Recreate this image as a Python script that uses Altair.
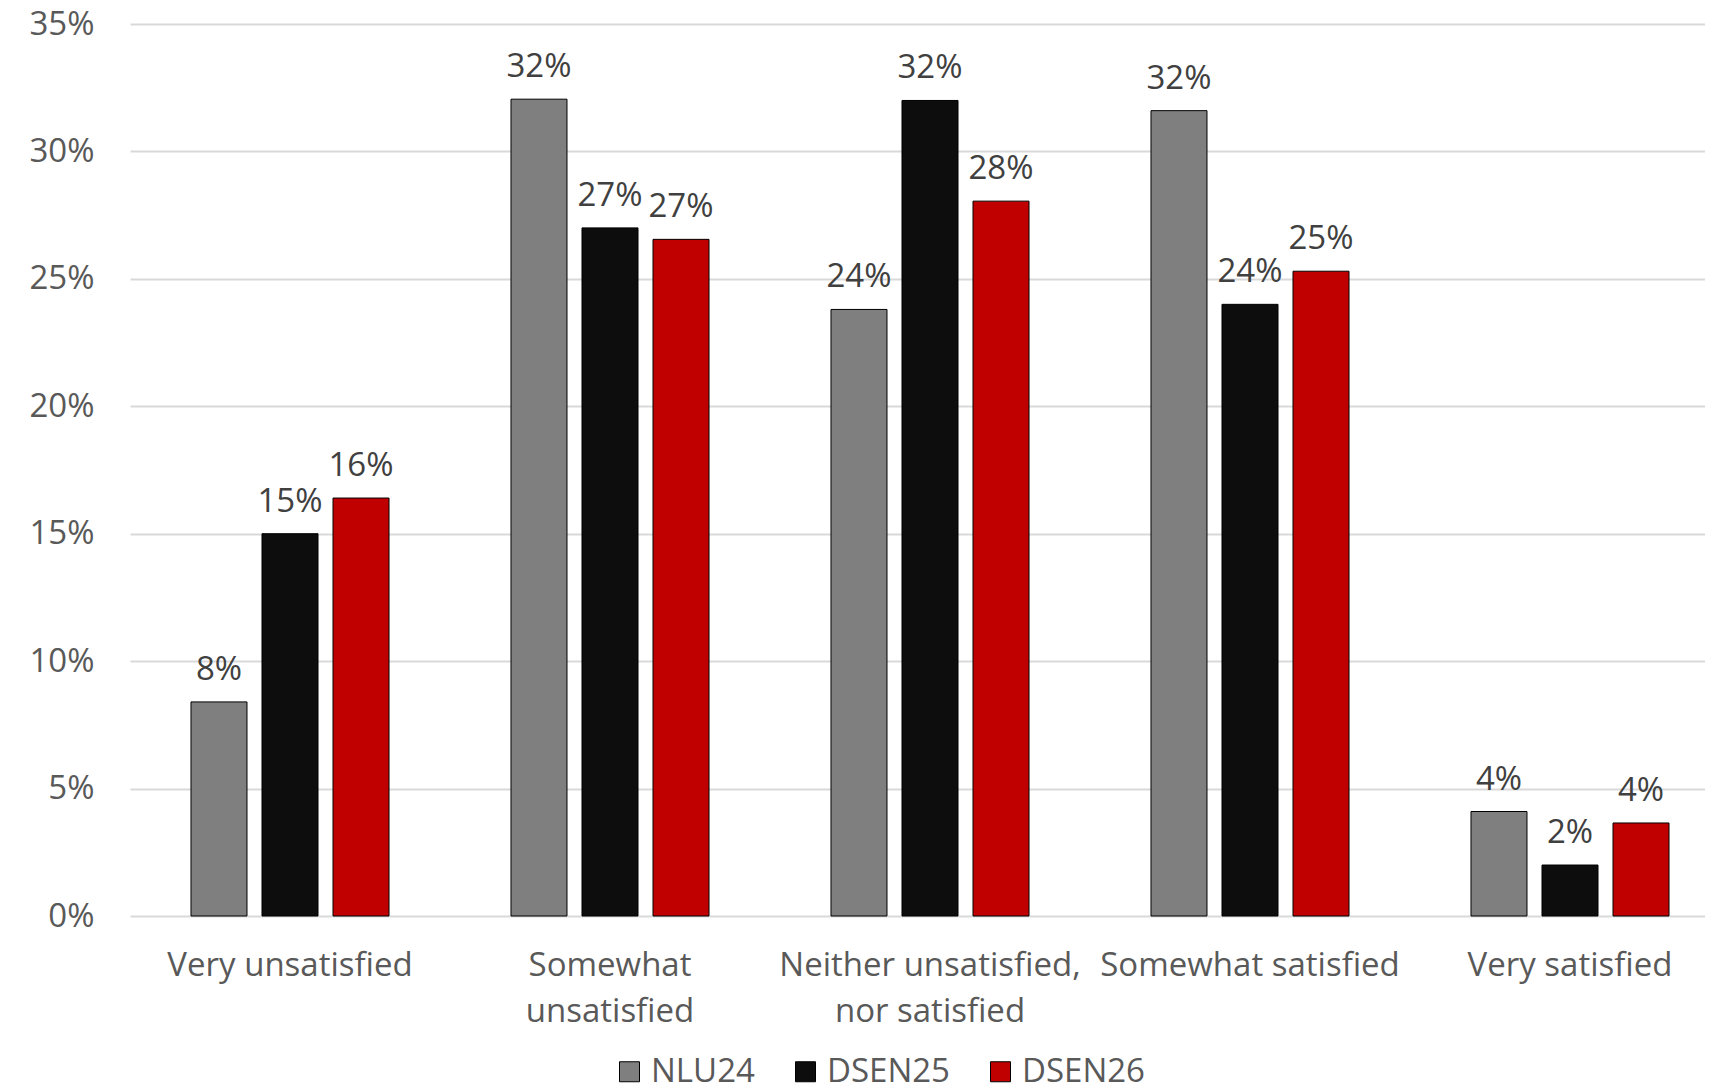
import altair as alt
import pandas as pd

categories = ["Very unsatisfied", "Somewhat unsatisfied", "Neither unsatisfied, nor satisfied",
              "Somewhat satisfied", "Very satisfied"]
series = ["NLU24", "DSEN25", "DSEN26"]
nlu24 = [0.084, 0.3205, 0.238, 0.316, 0.041]
dsen25 = [0.150, 0.270, 0.320, 0.240, 0.020]
dsen26 = [0.164, 0.2655, 0.2805, 0.253, 0.0365]
colors = ["#7F7F7F", "#0D0D0D", "#C00000"]
y_ticks = [0, 0.05, 0.10, 0.15, 0.20, 0.25, 0.30, 0.35]

rows = []
for name, vals in zip(series, [nlu24, dsen25, dsen26]):
    for c, v in zip(categories, vals):
        rows.append({"category": c, "series": name, "value": v})
df = pd.DataFrame(rows)

FONT = "Open Sans"
FS = 33

label_expr = ("datum.label == 'Somewhat unsatisfied' ? ['Somewhat', 'unsatisfied'] : "
              "datum.label == 'Neither unsatisfied, nor satisfied' ? ['Neither unsatisfied,', 'nor satisfied'] : "
              "datum.label")

base = alt.Chart(df).encode(
    x=alt.X("category:N", sort=categories, title=None,
            scale=alt.Scale(range=[0, 1600], paddingInner=0, paddingOuter=0),
            axis=alt.Axis(labelAngle=0, labelExpr=label_expr, labelLimit=1000,
                          labelFontSize=FS, labelFont=FONT, labelColor="#595959",
                          labelPadding=33, labelLineHeight=46, ticks=False, domain=False,
                          grid=False)),
    xOffset=alt.XOffset("series:N", sort=series,
                        scale=alt.Scale(paddingInner=0.2113, paddingOuter=0.859)),
    y=alt.Y("value:Q", title=None,
            scale=alt.Scale(domain=[0, 0.35], nice=False),
            axis=alt.Axis(values=y_ticks, format=".0%", labelFontSize=FS, labelFont=FONT,
                          labelColor="#595959", labelPadding=36, ticks=False, domain=False,
                          grid=True, gridColor="#D9D9D9", gridWidth=2)),
)

bars = base.mark_bar(stroke="#000000", strokeWidth=1).encode(
    color=alt.Color("series:N", sort=series, title=None,
                    scale=alt.Scale(domain=series, range=colors),
                    legend=alt.Legend(orient="none", legendX=483, legendY=1031,
                                      direction="horizontal", symbolType="square",
                                      symbolSize=400, symbolStrokeColor="#000000",
                                      symbolStrokeWidth=1, labelFontSize=FS, labelFont=FONT,
                                      labelColor="#595959", columnPadding=34, labelOffset=5,
                                      padding=0))
)

texts = base.mark_text(baseline="alphabetic", dy=-22, fontSize=FS, font=FONT,
                       color="#404040").encode(
    text=alt.Text("value:Q", format=".0%")
)

chart = alt.layer(bars, texts).properties(
    width=1575, height=892,
    autosize=alt.AutoSizeParams(type="none"),
    padding={"left": 122, "top": 16, "right": 0, "bottom": 168},
    background="white",
).configure_view(stroke=None)

chart.save("out.html", embed_options={"renderer": "svg", "actions": False})
